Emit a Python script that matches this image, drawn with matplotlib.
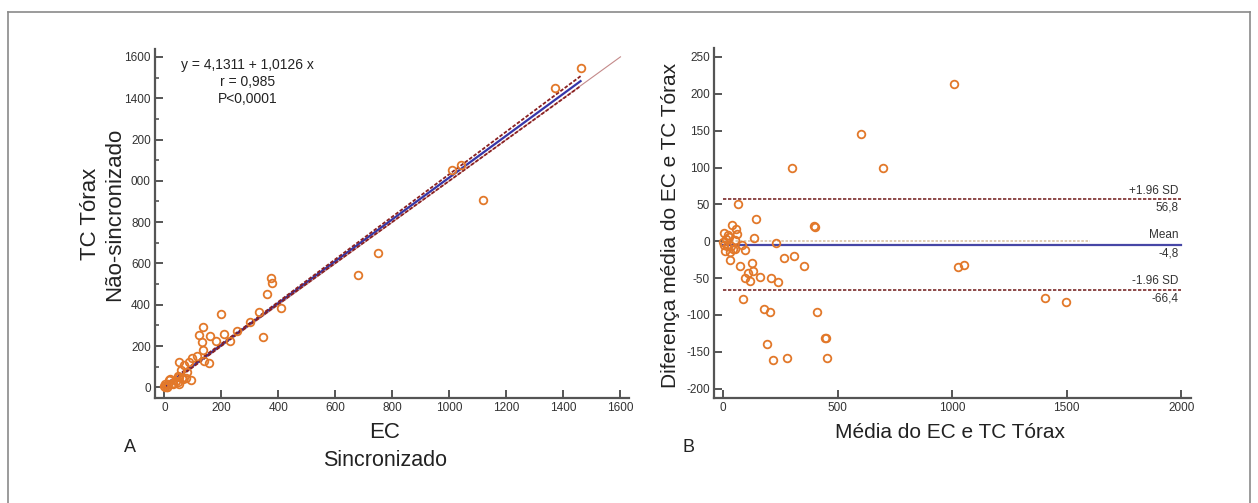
import matplotlib
matplotlib.use("Agg")
import matplotlib.pyplot as plt
from matplotlib.lines import Line2D
from matplotlib.ticker import MultipleLocator, FixedLocator, FixedFormatter
import numpy as np

plt.rcParams['font.family'] = ['Liberation Sans', 'DejaVu Sans']
plt.rcParams['axes.unicode_minus'] = False

# ---------------- Panel A data (EC sincronizado vs TC Tórax não-sincronizado)
ec = [1460, 1370, 1117, 1039, 1008, 749, 679,
      373, 379, 361, 408, 332, 347, 300, 253, 230, 210, 200, 181, 160, 136,
      120, 132, 134, 155, 140, 113, 97, 85, 70, 50, 58, 47, 64, 93, 50, 17,
      29, 0, 2, 8, 78, 76, 10, 29, 13, 3, 49, 63, 52, 18, 40]
tc = [1548, 1450, 906, 1078, 1052, 650, 543,
      530, 504, 453, 385, 364, 246, 315, 272, 223, 259, 356, 226, 251, 294,
      255, 218, 181, 118, 129, 150, 142, 125, 110, 121, 86, 57, 41, 36, 16, 36,
      16, 8, 2, 0, 73, 48, 0, 23, 19, 15, 27, 47, 51, 43, 30]

reg_intercept = 4.1311
reg_slope = 1.0126
reg_x = [0, 1460]
band_x = [0, 300, 1460]
band_half = [8, 4, 24]
identity_x = [0, 1600]

left_yticks = [0, 200, 400, 600, 800, 1000, 1200, 1400, 1600]
left_yticklabels = ['0', '200', '400', '600', '800', '000', '200', '1400', '1600']
left_xticks = [0, 200, 400, 600, 800, 1000, 1200, 1400, 1600]

# ---------------- Panel B data (Bland-Altman)
ba_mean = [1008, 604, 698, 303, 67, 142, 398, 402, 136, 232, 266, 309, 353,
           1024, 1054, 1405, 1499, 411, 444, 448, 455, 278, 220, 191, 207, 177,
           89, 241, 208, 161, 120, 107, 96, 132, 125, 74, 30, 97, 84,
           38, 55, 62, 4, 26, 1, 52, 16, 9, 52, 44, 30, 3, 33, 12, 21]
ba_diff = [213, 146, 99, 99, 51, 30, 21, 19, 4, -3, -23, -20, -34,
           -35, -32, -77, -82, -96, -132, -132, -158, -158, -161, -140, -96, -92,
           -79, -56, -50, -49, -54, -43, -50, -41, -30, -34, -25, -12, -5,
           22, 16, 10, 11, 6, -1, 1, -6, -13, -11, -11, -15, -5, -6, 3, 8]

ba_mean_diff = -4.8
ba_upper = 56.8
ba_lower = -66.4
ba_line_x = [0, 2000]
zero_line_x = [0, 1600]

W, H = 1258, 503
fig = plt.figure(figsize=(W / 100, H / 100), dpi=100)

def fx(px):
    return px / W

def fy(py):
    return 1 - py / H

# outer frame
frame_col = '#8a8a8a'
fig.add_artist(Line2D([fx(8), fx(1250)], [fy(12), fy(12)], color=frame_col, lw=1.2, transform=fig.transFigure))
fig.add_artist(Line2D([fx(8), fx(8)], [fy(12), fy(503)], color=frame_col, lw=1.2, transform=fig.transFigure))
fig.add_artist(Line2D([fx(1250), fx(1250)], [fy(12), fy(503)], color=frame_col, lw=1.2, transform=fig.transFigure))

spine_col = '#555555'
tick_col = '#333333'
orange = '#e2782a'

def style_axes(ax):
    for s in ['top', 'right']:
        ax.spines[s].set_visible(False)
    for s in ['left', 'bottom']:
        ax.spines[s].set_color(spine_col)
        ax.spines[s].set_linewidth(1.6)
    ax.tick_params(which='major', direction='in', length=6, width=1.4, color=spine_col,
                   labelsize=8.5, labelcolor=tick_col, pad=3)
    ax.tick_params(which='minor', direction='in', length=3, width=1.2, color=spine_col)
    ax.patch.set_alpha(0)

# ---------------- Panel A
axA = fig.add_axes([fx(155), fy(398), fx(629) - fx(155), fy(49) - fy(398)])
style_axes(axA)
axA.set_xlim(-33.3, 1630)
axA.set_ylim(-51, 1638)

axA.plot(identity_x, identity_x, color='#c48a8a', lw=0.8, zorder=1)
rx = np.array(reg_x, dtype=float)
axA.plot(rx, reg_intercept + reg_slope * rx, color='#3636a8', lw=1.6, zorder=2)
bx = np.array(band_x, dtype=float)
bh = np.array(band_half, dtype=float)
by = reg_intercept + reg_slope * bx
axA.plot(bx, by + bh, color='#8a2020', lw=1.3, ls=(0, (2, 1)), zorder=3)
axA.plot(bx, by - bh, color='#8a2020', lw=1.3, ls=(0, (2, 1)), zorder=3)
axA.plot(ec, tc, ls='none', marker='o', ms=5.5, mfc='none', mec=orange, mew=1.3, zorder=4)

axA.yaxis.set_major_locator(FixedLocator(left_yticks))
axA.yaxis.set_major_formatter(FixedFormatter(left_yticklabels))
axA.yaxis.set_minor_locator(MultipleLocator(100))
axA.xaxis.set_major_locator(FixedLocator(left_xticks))

axA.text(291, 1560, 'y = 4,1311 + 1,0126 x', ha='center', va='center', fontsize=10, color='#222222')
axA.text(291, 1478, 'r = 0,985', ha='center', va='center', fontsize=10, color='#222222')
axA.text(291, 1395, 'P<0,0001', ha='center', va='center', fontsize=10, color='#222222')

fig.text(fx(91), fy(214), 'TC Tórax', rotation=90, ha='center', va='center', fontsize=16, color='#222222')
fig.text(fx(115), fy(214), 'Não-sincronizado', rotation=90, ha='center', va='center', fontsize=16, color='#222222')
fig.text(fx(385), fy(432), 'EC', ha='center', va='center', fontsize=16, color='#222222')
fig.text(fx(385), fy(460), 'Sincronizado', ha='center', va='center', fontsize=15.5, color='#222222')
fig.text(fx(130), fy(447), 'A', ha='center', va='center', fontsize=13, color='#222222')

# ---------------- Panel B
axB = fig.add_axes([fx(714), fy(398), fx(1191) - fx(714), fy(48) - fy(398)])
style_axes(axB)
axB.set_xlim(-39.3, 2043)
axB.set_ylim(-212.8, 262.2)

axB.plot(zero_line_x, [0, 0], color='#d9c3a5', lw=1.2, ls=(0, (1.5, 1)), zorder=1)
axB.plot(ba_line_x, [ba_mean_diff] * 2, color='#4646a6', lw=1.6, zorder=2)
axB.plot(ba_line_x, [ba_upper] * 2, color='#7a2a2a', lw=1.2, ls=(0, (2, 1)), zorder=2)
axB.plot(ba_line_x, [ba_lower] * 2, color='#7a2a2a', lw=1.2, ls=(0, (2, 1)), zorder=2)
axB.plot(ba_mean, ba_diff, ls='none', marker='o', ms=5.5, mfc='none', mec=orange, mew=1.3, zorder=4)

axB.xaxis.set_major_locator(MultipleLocator(500))
axB.yaxis.set_major_locator(MultipleLocator(50))

lab_kw = dict(ha='right', va='center', fontsize=8.5, color='#333333')
axB.text(1990, ba_upper + 12, '+1.96 SD', **lab_kw)
axB.text(1990, ba_upper - 11, '56,8', **lab_kw)
axB.text(1990, ba_mean_diff + 13, 'Mean', **lab_kw)
axB.text(1990, ba_mean_diff - 12, '-4,8', **lab_kw)
axB.text(1990, ba_lower + 13, '-1.96 SD', **lab_kw)
axB.text(1990, ba_lower - 11, '-66,4', **lab_kw)

fig.text(fx(670), fy(225), 'Diferença média do EC e TC Tórax', rotation=90, ha='center', va='center',
         fontsize=15, color='#222222')
fig.text(fx(950), fy(432), 'Média do EC e TC Tórax', ha='center', va='center', fontsize=15, color='#222222')
fig.text(fx(688), fy(447), 'B', ha='center', va='center', fontsize=13, color='#222222')

fig.savefig('out.png', dpi=100, facecolor='white')
